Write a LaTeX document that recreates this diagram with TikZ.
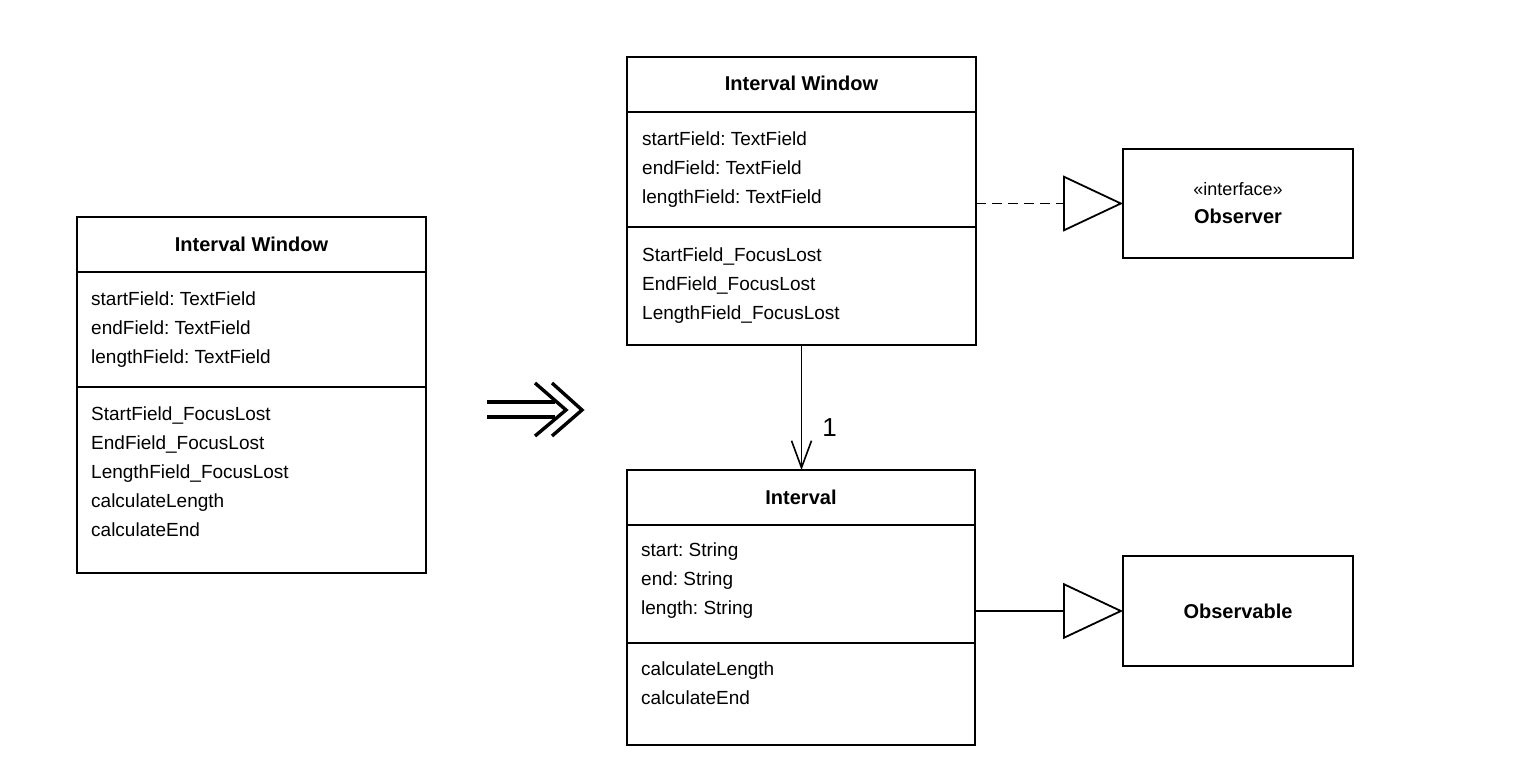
\documentclass[tikz,border=0pt]{standalone}
\usepackage{fontspec}
\setmainfont{Liberation Sans}
\usetikzlibrary{arrows.meta}
\frenchspacing
\begin{document}
\begin{tikzpicture}[x=1pt,y=-1pt,
  umlbox/.style={draw, line width=1.8pt, rectangle, inner sep=0pt, outer sep=0pt},
  cname/.style={font=\fontsize{20}{24}\selectfont\bfseries, inner sep=0pt},
  members/.style={anchor=north west, align=left, inner sep=0pt,
                  font=\fontsize{19}{29}\selectfont},
  divider/.style={line width=1.8pt},
  link/.style={line width=1.6pt},
  gen/.style={-{Triangle[open, length=60pt, width=56pt, line width=1.8pt]}}]
\useasboundingbox (0,0) rectangle (1516,784);

% ---- original class
\node[umlbox, minimum width=349pt, minimum height=356pt] (lb) at (251.5,395) {};
\draw[divider] (lb.west |- 0,272) -- (lb.east |- 0,272);
\draw[divider] (lb.west |- 0,387) -- (lb.east |- 0,387);
\node[cname] (lbT) at (lb.north |- 0,244) {Interval Window};
\node[members] (lbA) at (91,292) {startField: TextField\\endField: TextField\\lengthField: TextField};
\node[members] (lbM) at (91,407) {StartField\_FocusLost\\EndField\_FocusLost\\LengthField\_FocusLost\\calculateLength\\calculateEnd};

% ---- refactoring arrow
\begin{scope}[line width=3.4pt, miter limit=10]
  \draw (487,402) -- (555,402);
  \draw (487,417) -- (555,417);
  \draw (535,383) -- (566,410) -- (535,436);
  \draw (552,383) -- (582,410) -- (552,436);
\end{scope}

% ---- window class
\node[umlbox, minimum width=349pt, minimum height=288pt] (iw) at (801.5,201) {};
\draw[divider] (iw.west |- 0,112) -- (iw.east |- 0,112);
\draw[divider] (iw.west |- 0,227) -- (iw.east |- 0,227);
\node[cname] (iwT) at (iw.north |- 0,83) {Interval Window};
\node[members] (iwA) at (642,132) {startField: TextField\\endField: TextField\\lengthField: TextField};
\node[members] (iwM) at (642,248) {StartField\_FocusLost\\EndField\_FocusLost\\LengthField\_FocusLost};

% ---- domain class
\node[umlbox, minimum width=348pt, minimum height=275pt] (iv) at (801,607.5) {};
\draw[divider] (iv.west |- 0,525) -- (iv.east |- 0,525);
\draw[divider] (iv.west |- 0,643) -- (iv.east |- 0,643);
\node[cname] (ivT) at (iv.north |- 0,497) {Interval};
\node[members] (ivA) at (641,543) {start: String\\end: String\\length: String};
\node[members] (ivM) at (641,662) {calculateLength\\calculateEnd};

% ---- interface and superclass
\node[umlbox, minimum width=230pt, minimum height=109pt, align=center,
      font=\fontsize{18}{28}\selectfont] (obs) at (1238,203.5)
      {«interface»\\{\fontsize{20}{28}\selectfont\bfseries Observer}};
\node[umlbox, minimum width=230pt, minimum height=110pt,
      font=\fontsize{20}{24}\selectfont\bfseries] (obl) at (1238,611) {Observable};

% ---- relations
\draw[link, -{Straight Barb[length=27pt, width=20pt, line width=1.6pt]}]
  (iw.south) -- (iw.south |- iv.north)
  node[pos=0.66, right=20pt, inner sep=0pt, font=\fontsize{26}{28}\selectfont] (mult) {1};
\draw[link, dash pattern=on 10pt off 6pt, gen] (obs.west -| iw.east) -- (obs.west);
\draw[link, gen] (obl.west -| iv.east) -- (obl.west);
\end{tikzpicture}
\end{document}
